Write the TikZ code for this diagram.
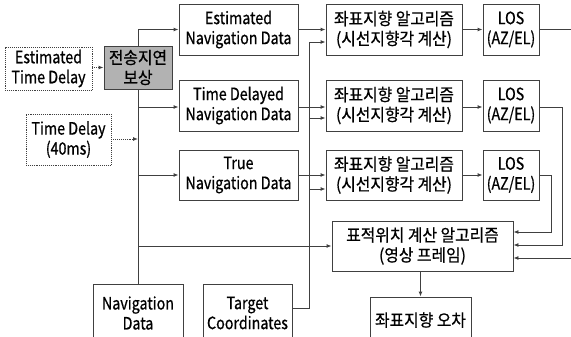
\documentclass[tikz,border=0pt]{standalone}
\usepackage{fontspec}
\setmainfont{Noto Sans CJK KR}[FakeStretch=0.84,FakeBold=0.7]
\newfontfamily\kr{Noto Sans CJK KR}[FakeStretch=0.93,FakeBold=0.7]
\usetikzlibrary{arrows.meta}
\begin{document}
\begin{tikzpicture}[x=1pt,y=-1pt,
  font=\fontsize{17}{20}\selectfont,
  box/.style={draw=black!75, line width=0.9pt, inner sep=0pt, align=center},
  kbox/.style={box, font=\fontsize{17}{20}\kr},
  dbox/.style={box, densely dotted},
  conn/.style={draw=black!75, line width=0.9pt},
  arr/.style={conn, -{Latex[length=5pt,width=4pt]}},
  darr/.style={arr, densely dotted}]
\useasboundingbox (0,0) rectangle (571,337);
% nodes
\node[dbox, minimum width=87pt, minimum height=43pt] (etd) at (48.5,68.5) {Estimated\\Time Delay};
\node[kbox, fill=black!30, minimum width=68pt, minimum height=43pt] (comp) at (138,67.5) {전송지연\\보상};
\node[dbox, minimum width=85pt, minimum height=51pt] (td) at (68.5,139.5) {Time Delay\\(40ms)};
\node[box, minimum width=119pt, minimum height=51pt] (end) at (238.5,29.5) {Estimated\\Navigation Data};
\node[box, minimum width=119pt, minimum height=51pt] (tdnd) at (238.5,105.5) {Time Delayed\\Navigation Data};
\node[box, minimum width=119pt, minimum height=50pt] (tnd) at (238.5,175) {True\\Navigation Data};
\node[kbox, minimum width=136pt, minimum height=51pt] (alg1) at (394,29.5) {좌표지향 알고리즘\\(시선지향각 계산)};
\node[kbox, minimum width=136pt, minimum height=51pt] (alg2) at (394,105.5) {좌표지향 알고리즘\\(시선지향각 계산)};
\node[kbox, minimum width=136pt, minimum height=50pt] (alg3) at (394,175) {좌표지향 알고리즘\\(시선지향각 계산)};
\node[box, minimum width=56pt, minimum height=51pt] (los1) at (511,29.5) {LOS\\(AZ/EL)};
\node[box, minimum width=56pt, minimum height=51pt] (los2) at (511,105.5) {LOS\\(AZ/EL)};
\node[box, minimum width=56pt, minimum height=50pt] (los3) at (511,175) {LOS\\(AZ/EL)};
\node[kbox, minimum width=181pt, minimum height=50pt] (tgt) at (422.5,246) {표적위치 계산 알고리즘\\(영상 프레임)};
\node[kbox, minimum width=101pt, minimum height=46pt] (err) at (420.5,320) {좌표지향 오차};
\node[box, minimum width=90pt, minimum height=58pt] (nav) at (138,313) {Navigation\\Data};
\node[box, minimum width=89pt, minimum height=58pt] (tc) at (247.5,313) {Target\\Coordinates};
% helper coordinates
\coordinate (t1) at (138,107);
\coordinate (t2) at (138,175);
\coordinate (t3) at (138,246);
\coordinate (tdin) at (138,139);
\coordinate (v) at (309,308);
\coordinate (v1) at (309,42);
\coordinate (v2) at (309,118);
\coordinate (v3) at (309,189);
\coordinate (r1) at (576,29);
\coordinate (r2) at (562,107);
\coordinate (r3) at (551,175);
% connectors
\draw[darr] (etd.east |- comp.west) -- (comp.west);
\draw[darr] (td.east |- tdin) -- (tdin);
\draw[arr] (comp.north) |- (end.west);
\draw[conn] (nav.north) -- (comp.south);
\draw[arr] (t1) -- (t1 -| tdnd.west);
\draw[arr] (t2) -- (t2 -| tnd.west);
\draw[arr] (t3) -- (t3 -| tgt.west);
\draw[arr] (end.east) -- (alg1.west);
\draw[arr] (tdnd.east |- t1) -- (t1 -| alg2.west);
\draw[arr] (tnd.east) -- (alg3.west);
\draw[conn] (tc.east |- v) -- (v) -- (v1);
\draw[arr] (v1) -- (v1 -| alg1.west);
\draw[arr] (v2) -- (v2 -| alg2.west);
\draw[arr] (v3) -- (v3 -| alg3.west);
\draw[arr] (alg1.east |- los1.west) -- (los1.west);
\draw[arr] (alg2.east |- t1) -- (t1 -| los2.west);
\draw[arr] (alg3.east) -- (los3.west);
\draw[arr] (los1.east |- r1) -- (r1) -- (576,258) -- (tgt.east |- 0,258);
\draw[arr] (los2.east |- r2) -- (r2) -- (562,245) -- (tgt.east |- 0,245);
\draw[arr] (los3.east |- r3) -- (r3) -- (551,232) -- (tgt.east |- 0,232);
\draw[arr] (tgt.south -| err.north) -- (err.north);
\end{tikzpicture}
\end{document}
